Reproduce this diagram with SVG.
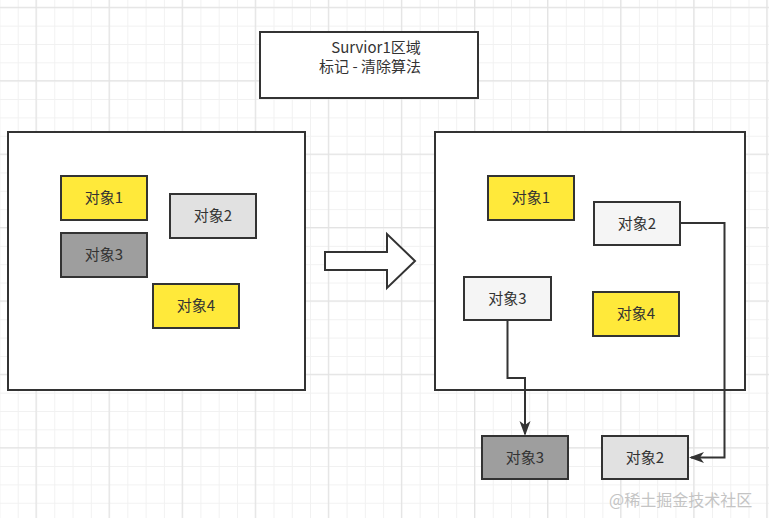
<svg xmlns="http://www.w3.org/2000/svg" width="769" height="518" viewBox="0 0 769 518">
<style>
.frame{fill:#ffffff;stroke:#333333;stroke-width:2}
.box{stroke:#333333;stroke-width:2}
.yellow{fill:#ffe93a}
.light{fill:#e1e1e1}
.pale{fill:#f5f5f5}
.dark{fill:#9e9e9e}
.lbl{font-family:"Noto Sans CJK SC","Liberation Sans",sans-serif;font-size:15px;fill:#333333;text-anchor:middle}
.conn{fill:none;stroke:#333333;stroke-width:2}
</style>
<defs>
<pattern id="minor" patternUnits="userSpaceOnUse" x="17.73" y="7.3" width="18.27" height="18.35">
<rect x="0" y="0" width="1" height="18.35" fill="#f1f1f1"/>
<rect x="0" y="0" width="18.27" height="1" fill="#f1f1f1"/>
</pattern>
<pattern id="major" patternUnits="userSpaceOnUse" x="35.5" y="6.8" width="73.08" height="73.4">
<rect x="0" y="0" width="1.2" height="73.4" fill="#e3e3e3"/>
<rect x="0" y="0" width="73.08" height="1.2" fill="#e3e3e3"/>
</pattern>
<marker id="arr" markerUnits="userSpaceOnUse" markerWidth="16" markerHeight="12" refX="13" refY="5.5" orient="auto">
<path d="M0,0 L15,5.5 L0,11 L4,5.5 Z" fill="#333333"/>
</marker>
</defs>
<rect width="769" height="518" fill="#ffffff"/>
<rect width="769" height="518" fill="url(#minor)"/>
<rect width="769" height="518" fill="url(#major)"/>

<g id="title">
<rect class="frame" x="260" y="32" width="218" height="66"/>
<text class="lbl" x="376" y="53">Survior1区域</text>
<text class="lbl" x="370" y="72">标记 - 清除算法</text>
</g>

<g id="left-panel">
<rect class="frame" x="8" y="132" width="297" height="258"/>
</g>
<g id="left-obj1"><rect class="box yellow" x="61" y="176" width="86" height="44"/><text class="lbl" x="104" y="203">对象1</text></g>
<g id="left-obj2"><rect class="box light" x="170" y="194" width="86" height="44"/><text class="lbl" x="213" y="221">对象2</text></g>
<g id="left-obj3"><rect class="box dark" x="61" y="233" width="86" height="44"/><text class="lbl" x="104" y="260">对象3</text></g>
<g id="left-obj4"><rect class="box yellow" x="153" y="284" width="86" height="44"/><text class="lbl" x="196" y="311">对象4</text></g>

<g id="block-arrow">
<polygon points="325,252 387,252 387,234 415,261 387,288 387,270 325,270" fill="#ffffff" stroke="#333333" stroke-width="2" stroke-linejoin="miter"/>
</g>

<g id="right-panel">
<rect class="frame" x="435" y="132" width="310" height="258"/>
</g>
<g id="right-obj1"><rect class="box yellow" x="488" y="176" width="86" height="44"/><text class="lbl" x="531" y="203">对象1</text></g>
<g id="right-obj2"><rect class="box pale" x="594" y="202" width="86" height="43"/><text class="lbl" x="637" y="229">对象2</text></g>
<g id="right-obj3"><rect class="box pale" x="464" y="277" width="87" height="43"/><text class="lbl" x="507.5" y="304">对象3</text></g>
<g id="right-obj4"><rect class="box yellow" x="593" y="292" width="86" height="44"/><text class="lbl" x="636" y="319">对象4</text></g>

<g id="out-obj3"><rect class="box dark" x="482" y="436" width="86" height="43"/><text class="lbl" x="525" y="463">对象3</text></g>
<g id="out-obj2"><rect class="box light" x="602" y="436" width="86" height="43"/><text class="lbl" x="645" y="463">对象2</text></g>

<g id="connectors">
<path class="conn" d="M507.5,320 V378 H525 V434" marker-end="url(#arr)"/>
<path class="conn" d="M680,223 H724.5 V457.5 H691" marker-end="url(#arr)"/>
</g>

<text x="609" y="506" font-family="Noto Sans CJK SC,Liberation Sans,sans-serif" font-size="16" fill="#c4c4c4">@稀土掘金技术社区</text>
</svg>
